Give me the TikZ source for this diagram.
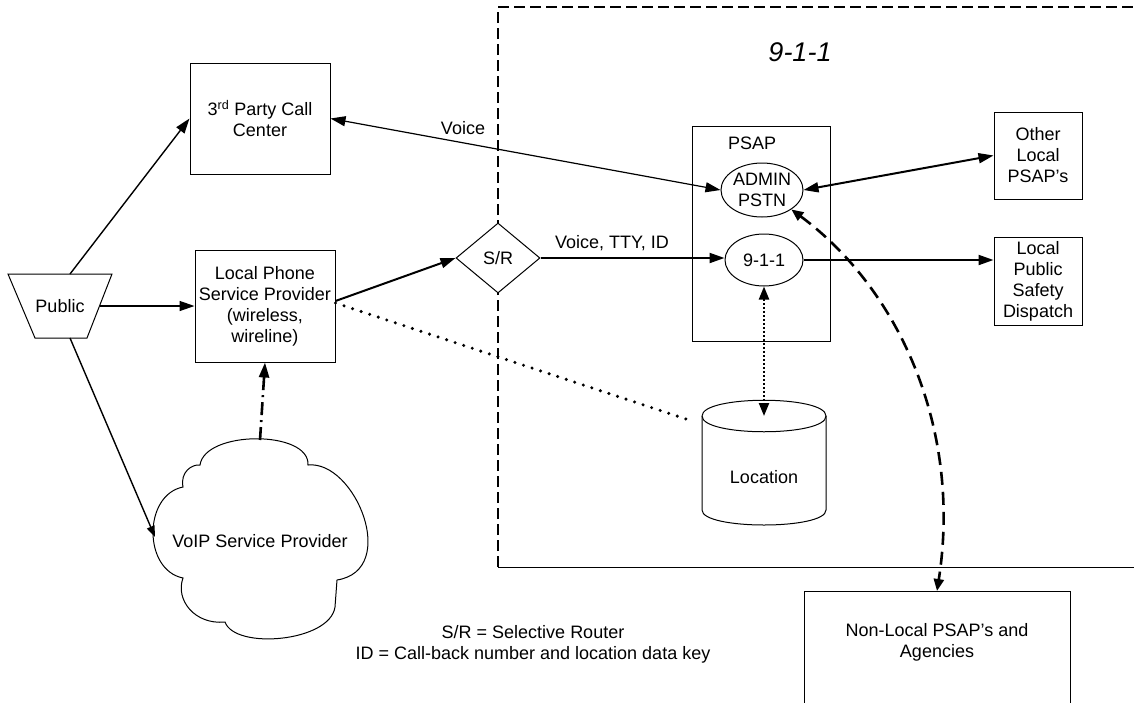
\documentclass[tikz,border=0pt]{standalone}
\usepackage{fontspec}
\setmainfont{Liberation Sans}
\usetikzlibrary{arrows.meta,shapes.geometric,calc}

\tikzset{
  box/.style={draw, line width=1pt, align=center, inner sep=0pt, fill=white},
  oval/.style={draw, ellipse, line width=1pt, align=center, inner sep=0pt, fill=white},
  bighead/.style={-{Triangle[length=15pt,width=10pt]}},
  bothheads/.style={{Triangle[length=15pt,width=10pt]}-{Triangle[length=15pt,width=10pt]}},
  smallhead/.style={-{Triangle[length=11pt,width=8pt]}},
  flow/.style={line width=2pt},
  thinflow/.style={line width=1.4pt},
  boundary/.style={line width=1.5pt, dash pattern=on 11pt off 5pt},
  link/.style={line width=2.6pt, dash pattern=on 13pt off 7pt},
  datadots/.style={line width=3.4pt, line cap=round, dash pattern=on 0pt off 9pt},
  querydots/.style={line width=2.2pt, dash pattern=on 2pt off 2pt},
  dashdot/.style={line width=2.6pt, dash pattern=on 13pt off 5pt on 2pt off 5pt},
  lbl/.style={inner sep=0pt}
}

\begin{document}
\begin{tikzpicture}[x=1pt, y=-1pt, font=\fontsize{18}{21}\selectfont]
\path[use as bounding box, clip] (0,0) rectangle (1134,702);

% 9-1-1 service area
\draw[boundary] (498,567) -- (498,7) -- (1134,7);
\draw[line width=1pt] (498,567) -- (1134,567);
\node[lbl, font=\fontsize{27}{32}\selectfont\itshape] (title) at (800,52) {9-1-1};

% caller side: inverted trapezium
\draw[line width=1pt, fill=white] (8,274) -- (112,274) -- (87,338) -- (35,338) -- cycle;
\node[lbl] (pub) at (60,306) {Public};
\coordinate (pubtop) at (70,274);
\coordinate (pubright) at (100,306);
\coordinate (pubbottom) at (70,338);

\node[box, minimum width=140pt, minimum height=111pt] (third) at (260,118.5)
  {3\textsuperscript{rd} Party Call\\Center};
\node[box, minimum width=140pt, minimum height=112pt] (lpsp) at (265,306)
  {Local Phone\\Service Provider\\(wireless,\\wireline)};

% VoIP cloud
\draw[line width=1pt, fill=white]
  (200,465) .. controls (205,430) and (310,430) .. (308,465)
  .. controls (355,460) and (400,570) .. (337,580)
  -- (335,607)
  .. controls (330,642) and (235,650) .. (225,622)
  .. controls (195,625) and (175,600) .. (183,578)
  .. controls (143,570) and (143,495) .. (183,487)
  .. controls (180,472) and (192,464) .. (200,465) -- cycle;
\node[lbl] (voip) at (260,541) {VoIP Service Provider};
\coordinate (cloudtop) at (260,440);
\coordinate (cloudleft) at (155,537);

% selective router
\node[draw, diamond, line width=1pt, minimum width=84pt, minimum height=70pt,
      inner sep=0pt, fill=white] (sr) at (498,258) {};
\node[lbl] (srlbl) at (498,258) {S/R};

% PSAP
\node[draw, line width=1pt, minimum width=138pt, minimum height=215pt, inner sep=0pt] (psap) at (761,233.5) {};
\node[lbl, anchor=west] (psaplbl) at (728,143) {PSAP};
\node[oval, minimum width=82pt, minimum height=54pt] (admin) at (762,190) {ADMIN\\PSTN};
\node[oval, minimum width=78pt, minimum height=52pt] (e911) at (764,260) {9-1-1};

% location database cylinder
\draw[line width=1pt, fill=white]
  (702,416) -- (702,510) .. controls (702,530) and (826,530) .. (826,510) -- (826,416)
  .. controls (826,395) and (702,395) .. (702,416) -- cycle;
\draw[line width=1pt] (702,416) .. controls (702,437) and (826,437) .. (826,416);
\node[lbl] (loc) at (764,477) {Location};
\coordinate (loctop) at (764,416);
\coordinate (locside) at (692,421);

% neighbouring agencies
\node[box, minimum width=88pt, minimum height=87pt] (other) at (1038,155.5) {Other\\Local\\PSAP’s};
\node[box, minimum width=88pt, minimum height=88pt] (lpsd) at (1038,281) {Local\\Public\\Safety\\Dispatch};
\node[draw, line width=1pt, minimum width=266pt, minimum height=140pt, inner sep=0pt, anchor=north] (nonlocal) at (937,591) {};
\node[lbl, align=center] (nonlocallbl) at (937,642) {Non-Local PSAP’s and\\Agencies};

% legend
\node[lbl, align=center] (legend) at (533,644)
  {S/R = Selective Router\\ID = Call-back number and location data key};

% connectors
\draw[thinflow, bighead] (pubtop) -- (third.west);
\draw[thinflow, bighead] (pubright) -- (lpsp.west);
\draw[thinflow, smallhead] (pubbottom) -- (cloudleft);
\draw[dashdot, bighead] (cloudtop) -- (lpsp.south);
\draw[flow, bighead] ([yshift=5pt]lpsp.east) -- (sr.west);
\draw[datadots] ([yshift=3pt]lpsp.east) -- (locside);
\draw[line width=1.2pt, bothheads] (third.east) -- (admin.west);
\node[lbl] (voicelbl) at (463,128) {Voice};
\draw[flow, bighead] (sr.east) -- (sr.east -| e911.west);
\node[lbl] (vttylbl) at (612,243) {Voice, TTY, ID};
\draw[flow, bothheads] (admin.east) -- (other.west);
\draw[flow, bighead] (e911.east) -- (e911.east -| lpsd.west);
\draw[querydots, {Triangle[length=13pt,width=10pt]}-{Triangle[length=13pt,width=10pt]}] (e911.south) -- (loctop);
\draw[link, {Triangle[length=12pt,width=10pt]}-{Triangle[length=12pt,width=10pt]}]
  (admin.south east) .. controls (900,290) and (962,430) .. (nonlocal.north);
\end{tikzpicture}
\end{document}
